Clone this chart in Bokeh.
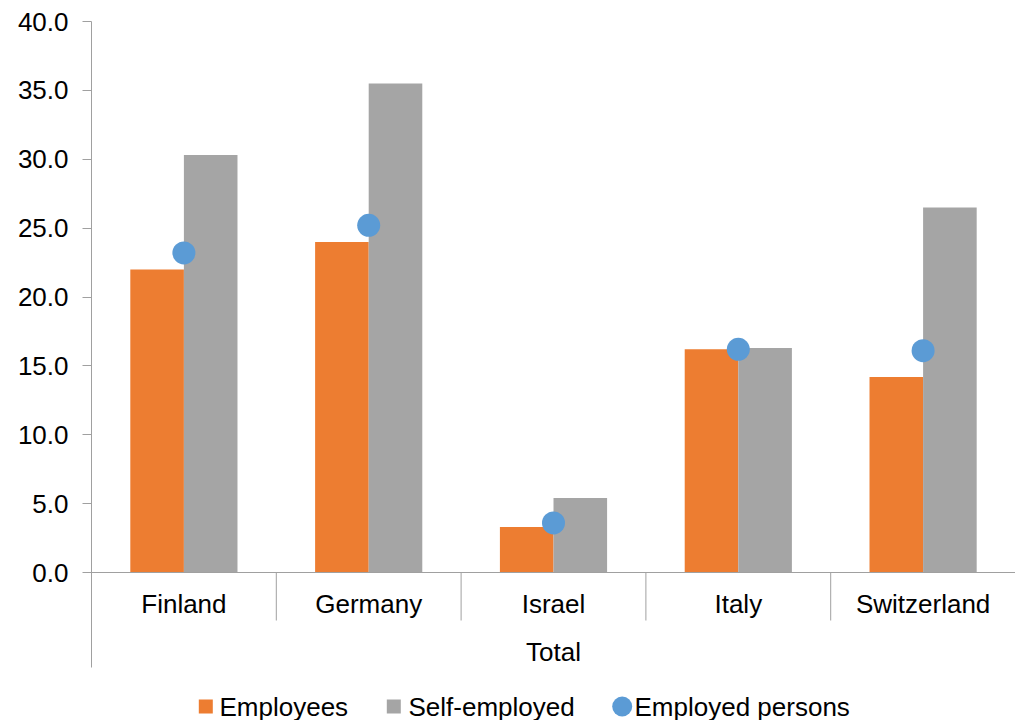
from bokeh.plotting import figure
from bokeh.models import Range1d, FixedTicker, NumeralTickFormatter, Span
from bokeh.core.properties import value
from bokeh.embed import file_html
from bokeh.resources import INLINE

# ---- data ----
countries = ["Finland", "Germany", "Israel", "Italy", "Switzerland"]
group_label = "Total"
employees = [22.0, 24.0, 3.3, 16.2, 14.2]
self_employed = [30.3, 35.5, 5.4, 16.3, 26.5]
employed_persons = [23.2, 25.2, 3.6, 16.2, 16.1]
y_ticks = [0, 5, 10, 15, 20, 25, 30, 35, 40]
series_names = ["Employees", "Self-employed", "Employed persons"]

# ---- style ----
C_EMP = "#ED7D31"
C_SELF = "#A5A5A5"
C_PERS = "#5B9BD5"
AXIS_C = "#A0A0A0"
FONT = "Liberation Sans"
FS = "26px"

W, H = 1015, 720
LEFT, TOP = 91, 21
frame_w = W - LEFT
frame_h = H - TOP
n = len(countries)
px_per_unit_y = 551 / 40.0
y_min = -(frame_h - 551) / px_per_unit_y
x_per_px = n / frame_w

def sx(px):  # screen px -> data x
    return (px - LEFT) * x_per_px

def sy(py):  # screen px -> data y
    return (572 - py) / px_per_unit_y

p = figure(width=W, height=H, output_backend="svg", toolbar_location=None,
           x_range=Range1d(0, n), y_range=Range1d(y_min, 40),
           min_border_left=LEFT, min_border_right=0, min_border_top=TOP,
           min_border_bottom=0)
p.outline_line_color = None
p.background_fill_color = "white"
p.border_fill_color = "white"
p.xgrid.visible = False
p.ygrid.visible = False
p.xaxis.visible = False

ya = p.yaxis[0]
ya.ticker = FixedTicker(ticks=y_ticks, minor_ticks=[])
ya.formatter = NumeralTickFormatter(format="0.0")
ya.bounds = (sy(667), 40)
ya.axis_line_color = AXIS_C
ya.major_tick_line_color = AXIS_C
ya.major_tick_out = 9
ya.major_tick_in = 0
ya.minor_tick_line_color = None
ya.major_label_standoff = 14
ya.major_label_text_font = FONT
ya.major_label_text_font_size = FS
ya.major_label_text_color = "black"

centers = [i + 0.5 for i in range(n)]
bw = 0.29
p.vbar(x=[c - bw / 2 for c in centers], top=employees, width=bw, bottom=0,
       fill_color=C_EMP, line_color=None)
p.vbar(x=[c + bw / 2 for c in centers], top=self_employed, width=bw, bottom=0,
       fill_color=C_SELF, line_color=None)

# horizontal category axis line
p.add_layout(Span(location=0, dimension="width", line_color=AXIS_C, line_width=1))
# category separators below the axis
sep_x = [i for i in range(1, n)]
p.segment(x0=sep_x, y0=[0] * len(sep_x), x1=sep_x, y1=[sy(620)] * len(sep_x),
          line_color=AXIS_C, line_width=1)

p.scatter(x=centers, y=employed_persons, size=23, marker="circle",
          fill_color=C_PERS, line_color=None)

# category labels and group label
p.text(x=centers, y=[sy(603)] * n, text=countries, text_font=value(FONT),
       text_font_size=FS, text_align="center", text_baseline="middle",
       text_color="black")
p.text(x=[n / 2], y=[sy(651)], text=[group_label], text_font=value(FONT),
       text_font_size=FS, text_align="center", text_baseline="middle",
       text_color="black")

# legend (drawn manually)
ly = sy(706)
p.scatter(x=[sx(205.3)], y=[ly], marker="square", size=14, fill_color=C_EMP, line_color=None)
p.scatter(x=[sx(393.3)], y=[ly], marker="square", size=14, fill_color=C_SELF, line_color=None)
p.scatter(x=[sx(621.7)], y=[ly], marker="circle", size=20, fill_color=C_PERS, line_color=None)
p.text(x=[sx(219), sx(408), sx(634)], y=[ly] * 3, text=series_names,
       text_font=value(FONT), text_font_size=FS, text_align="left",
       text_baseline="middle", text_color="black")

open("out.html", "w").write(file_html(p, INLINE))
